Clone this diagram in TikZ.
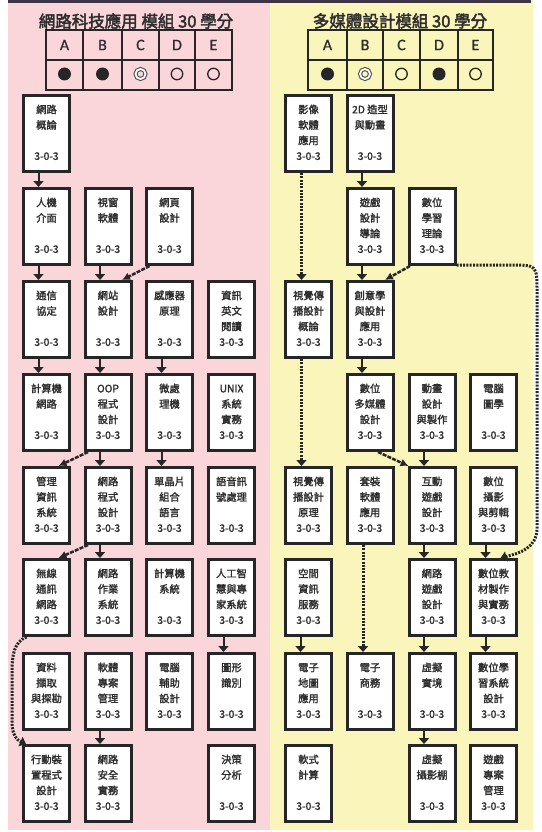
\documentclass[tikz,border=0pt]{standalone}
\usepackage{fontspec}
\newfontfamily\cjk[FakeBold=1.8]{Noto Sans CJK TC}
\newfontfamily\cjkt[FakeBold=2.5]{Noto Sans CJK TC}
\newfontfamily\hdr[FakeBold=0.8]{Carlito}
\usetikzlibrary{arrows.meta}
\definecolor{pinkbg}{RGB}{250,214,219}
\definecolor{yellowbg}{RGB}{250,245,186}
\definecolor{ink}{RGB}{38,38,38}
\definecolor{txt}{RGB}{45,45,45}
\definecolor{topbar}{RGB}{62,52,72}
\newcommand\crs[5]{\node[crs] (#1) at (#2) {\strut#3\\\strut#4\\\strut#5\\\strut 3-0-3};}
\begin{document}
\begin{tikzpicture}[x=1pt,y=-1pt,
  crs/.style={draw=ink,line width=3pt,fill=white,minimum width=46pt,minimum height=76pt,
    inner sep=0pt,align=center,text=txt,font=\cjk\fontsize{10.3}{15.5}\selectfont},
  dn/.style={draw=ink,line width=2pt,-{Triangle[width=10pt,length=6pt]}},
  dotarr/.style={draw=ink,line width=3pt,dash pattern=on 2pt off 1.3pt,-{Triangle[width=10pt,length=6pt]}},
  diag/.style={draw=ink,line width=2.5pt,dash pattern=on 4pt off 1.2pt,-{Latex[length=8pt,width=8pt]}},
  ttl/.style={text=txt,font=\cjkt\fontsize{16.5}{16.5}\selectfont},
  hd/.style={text=txt,font=\hdr\fontsize{16}{16}\selectfont},
  fullc/.style={circle,fill=ink,minimum size=13pt,inner sep=0pt},
  openc/.style={circle,draw=ink,line width=1.3pt,minimum size=11.5pt,inner sep=0pt},
  dblc/.style={circle,draw=ink!80,line width=1.1pt,double=white,double distance=1.8pt,minimum size=10pt,inner sep=0pt},
  grid/.style={draw=ink,line width=2pt}
]
\useasboundingbox (0,0) rectangle (541,832);
\fill[pinkbg] (8,0) rectangle (270,830);
\fill[yellowbg] (270,0) rectangle (533,830);
\fill[topbar] (8,0) rectangle (531,3);

% titles
\node[ttl] (tl) at (136,21) {網路科技應用 模組 30 學分};
\node[ttl] (tr) at (400,21) {多媒體設計模組 30 學分};

% left table
\draw[grid] (46,30) rectangle (232,90);
\draw[grid] (46,60) -- (232,60);
\foreach \x in {83,122,159,195} \draw[grid] (\x,30) -- (\x,90);
\node[hd] (lhA) at (64.5,45) {A};
\node[hd] (lhB) at (102.5,45) {B};
\node[hd] (lhC) at (140.5,45) {C};
\node[hd] (lhD) at (177,45) {D};
\node[hd] (lhE) at (213.5,45) {E};
\node[fullc] (lcA) at (64.5,74) {};
\node[fullc] (lcB) at (102.5,74) {};
\node[dblc] (lcC) at (140.5,74) {};
\node[openc] (lcD) at (177,74) {};
\node[openc] (lcE) at (213.5,74) {};

% right table
\draw[grid] (308,30) rectangle (493,90);
\draw[grid] (308,60) -- (493,60);
\foreach \x in {347,383,420,458} \draw[grid] (\x,30) -- (\x,90);
\node[hd] (rhA) at (327.5,45) {A};
\node[hd] (rhB) at (365,45) {B};
\node[hd] (rhC) at (401.5,45) {C};
\node[hd] (rhD) at (439,45) {D};
\node[hd] (rhE) at (475.5,45) {E};
\node[fullc] (rcA) at (327.5,74) {};
\node[dblc] (rcB) at (365,74) {};
\node[openc] (rcC) at (401.5,74) {};
\node[fullc] (rcD) at (439,74) {};
\node[openc] (rcE) at (475.5,74) {};

% left courses
\crs{la1}{46.5,133.5}{網路}{概論}{}
\crs{la2}{46.5,226.5}{人機}{介面}{}
\crs{la3}{46.5,319.5}{通信}{協定}{}
\crs{la4}{46.5,412.5}{計算機}{網路}{}
\crs{la5}{46.5,505.5}{管理}{資訊}{系統}
\crs{la6}{46.5,597.5}{無線}{通訊}{網路}
\crs{la7}{46.5,691.5}{資料}{擷取}{與探勘}
\crs{la8}{46.5,783.5}{行動裝}{置程式}{設計}
\crs{lb2}{108,226.5}{視窗}{軟體}{}
\crs{lb3}{108,319.5}{網站}{設計}{}
\crs{lb4}{108,412.5}{OOP}{程式}{設計}
\crs{lb5}{108,505.5}{網路}{程式}{設計}
\crs{lb6}{108,597.5}{網路}{作業}{系統}
\crs{lb7}{108,691.5}{軟體}{專案}{管理}
\crs{lb8}{108,783.5}{網路}{安全}{實務}
\crs{lc2}{169.5,226.5}{網頁}{設計}{}
\crs{lc3}{169.5,319.5}{感應器}{原理}{}
\crs{lc4}{169.5,412.5}{微處}{理機}{}
\crs{lc5}{169.5,505.5}{單晶片}{組合}{語言}
\crs{lc6}{169.5,597.5}{計算機}{系統}{}
\crs{lc7}{169.5,691.5}{電腦}{輔助}{設計}
\crs{ld3}{231.5,319.5}{資訊}{英文}{閱讀}
\crs{ld4}{231.5,412.5}{UNIX}{系統}{實務}
\crs{ld5}{231.5,505.5}{語音訊}{號處理}{}
\crs{ld6}{231.5,597.5}{人工智}{慧與專}{家系統}
\crs{ld7}{231.5,691.5}{圖形}{識別}{}
\crs{ld8}{231.5,783.5}{決策}{分析}{}

% right courses
\crs{ra1}{308.5,133.5}{影像}{軟體}{應用}
\crs{ra3}{308.5,319.5}{視覺傳}{播設計}{概論}
\crs{ra5}{308.5,505.5}{視覺傳}{播設計}{原理}
\crs{ra6}{308.5,597.5}{空間}{資訊}{服務}
\crs{ra7}{308.5,691.5}{電子}{地圖}{應用}
\crs{ra8}{308.5,783.5}{軟式}{計算}{}
\crs{rb1}{370,133.5}{2D 造型}{與動畫}{}
\crs{rb2}{370,226.5}{遊戲}{設計}{導論}
\crs{rb3}{370,319.5}{創意學}{與設計}{應用}
\crs{rb4}{370,412.5}{數位}{多媒體}{設計}
\crs{rb5}{370,505.5}{套裝}{軟體}{應用}
\crs{rb7}{370,691.5}{電子}{商務}{}
\crs{rc2}{432,226.5}{數位}{學習}{理論}
\crs{rc4}{432,412.5}{動畫}{設計}{與製作}
\crs{rc5}{432,505.5}{互動}{遊戲}{設計}
\crs{rc6}{432,597.5}{網路}{遊戲}{設計}
\crs{rc7}{432,691.5}{虛擬}{實境}{}
\crs{rc8}{432,783.5}{虛擬}{攝影棚}{}
\crs{rd4}{493.5,412.5}{電腦}{圖學}{}
\crs{rd5}{493.5,505.5}{數位}{攝影}{與剪輯}
\crs{rd6}{493.5,597.5}{數位教}{材製作}{與實務}
\crs{rd7}{493.5,691.5}{數位學}{習系統}{設計}
\crs{rd8}{493.5,783.5}{遊戲}{專案}{管理}

% straight solid arrows
\foreach \a/\b in {la1/la2,la2/la3,la3/la4,lb2/lb3,lb3/lb4,lc3/lc4,lb4/lb5,lc4/lc5,lb5/lb6,ld6/ld7,lb7/lb8,
  rb1/rb2,rb2/rb3,rb3/rb4,rc4/rc5,rc5/rc6,rd5/rd6,ra6/ra7,rc6/rc7,rd6/rd7,rc7/rc8}
  \draw[dn] ([xshift=-8pt]\a.south) -- ([xshift=-8pt]\b.north);

% straight dotted arrows
\foreach \a/\b in {ra1/ra3,ra3/ra5,rb5/rb7}
  \draw[dotarr] ([xshift=-7pt]\a.south) -- ([xshift=-7pt]\b.north);

% diagonal arrows
\draw[diag] ([xshift=-20pt]lc2.south) -- ([xshift=14pt]lb3.north);
\draw[diag] ([xshift=-20pt]lb4.south) -- ([xshift=12pt]la5.north);
\draw[diag] ([xshift=-20pt]lb5.south) -- ([xshift=12pt]la6.north);
\draw[diag] ([xshift=-22pt]rc2.south) -- ([xshift=15pt]rb3.north);
\draw[diag] ([xshift=8pt]rb4.south) -- ([xshift=1pt]rc5.north west);

% curved dotted arrows
\draw[dotarr] ([xshift=-20pt]la6.south) .. controls (14,642) and (12,655) .. (12,672)
  -- (12,722) .. controls (12,735) and (17,740) .. ([xshift=4pt]la8.north west);
\draw[dotarr] ([yshift=1pt]rc2.south east) -- (510,265) .. controls (537,265) .. (537,292)
  -- (537,528) .. controls (537,548) and (520,553) .. ([xshift=7pt]rd6.north);
\end{tikzpicture}
\end{document}
